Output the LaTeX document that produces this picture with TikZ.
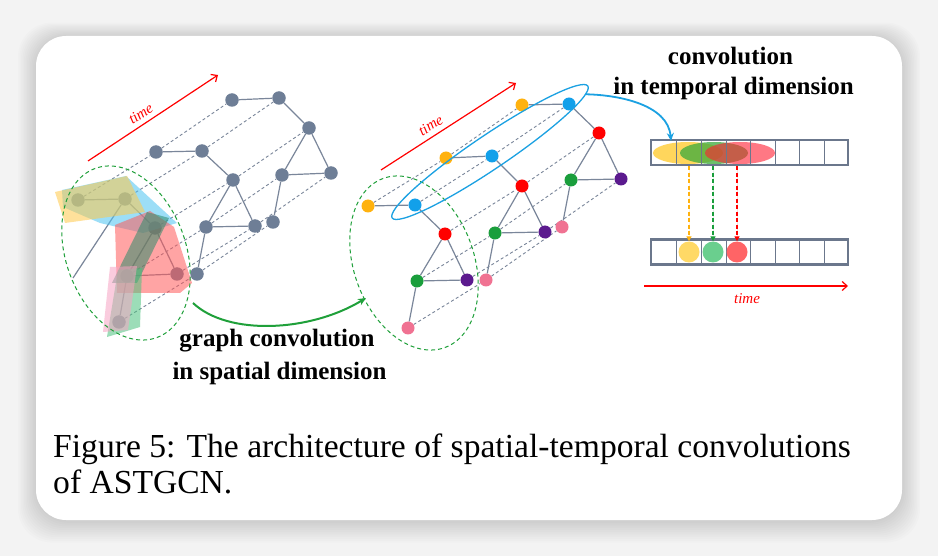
\documentclass[tikz,border=0pt]{standalone}
\usepackage{fontspec}
\setmainfont{Liberation Serif}
\usetikzlibrary{arrows.meta,shapes.geometric}
\definecolor{bgc}{HTML}{F3F3F3}
\definecolor{edgec}{HTML}{7A869A}
\definecolor{nodeg}{HTML}{6E7E96}
\definecolor{corange}{HTML}{FFB20F}
\definecolor{cblue}{HTML}{12A0EA}
\definecolor{cred}{HTML}{FF0000}
\definecolor{cgreen}{HTML}{1A9E3C}
\definecolor{cpurple}{HTML}{5B1A8E}
\definecolor{cpink}{HTML}{F07292}
\definecolor{arrowgreen}{HTML}{1FA03A}
\definecolor{arrowblue}{HTML}{1BA1E2}
\definecolor{boxc}{HTML}{6B778C}
\definecolor{ovyellow}{HTML}{FFC94A}
\definecolor{ovblue}{HTML}{4CC3F2}
\definecolor{ovred}{HTML}{FF5A5A}
\definecolor{ovteal}{HTML}{2E8C6A}
\definecolor{ovgreen}{HTML}{4CC27E}
\definecolor{ovpink}{HTML}{F7A3C3}
\definecolor{tyellow}{HTML}{FFD65C}
\definecolor{tgreen}{HTML}{3CAA3C}
\definecolor{tred}{HTML}{FF1E32}
\definecolor{cyellow}{HTML}{FFD966}
\definecolor{cgreenl}{HTML}{6ACF8E}
\definecolor{credl}{HTML}{FF6466}
\pgfdeclarelayer{back}
\pgfdeclarelayer{edges}
\pgfsetlayers{back,edges,main}
\begin{document}
\begin{tikzpicture}[x=1pt,y=-1pt,
  gn/.style={circle,fill=nodeg,minimum size=13.5pt,inner sep=0pt},
  cn/.style={circle,fill=#1,minimum size=13pt,inner sep=0pt},
  gedge/.style={draw=edgec,line width=1.2pt},
  dline/.style={draw=edgec,line width=0.9pt,dash pattern=on 3pt off 2.5pt},
  overlay/.style={fill=#1,fill opacity=0.55,draw=none},
  timearrow/.style={draw=red,line width=1.2pt,-{Straight Barb[length=5pt,width=9pt]}},
  timelabel/.style={text=red,font=\fontsize{15}{15}\selectfont\itshape,inner sep=0pt},
  bigbold/.style={font=\fontsize{25}{30}\selectfont\bfseries,inner sep=0pt,anchor=base},
  captionstyle/.style={font=\fontsize{33.6}{36}\selectfont,inner sep=0pt,anchor=base west},
  spatell/.style={ellipse,draw=arrowgreen,line width=1pt,dash pattern=on 4pt off 3pt,minimum width=120pt,minimum height=180pt,inner sep=0pt,rotate=20},
  dropline/.style={line width=1.3pt,dash pattern=on 4pt off 2.5pt,-{Triangle[length=5pt,width=5pt]}},
]
\useasboundingbox (0,0) rectangle (938,556);
\begin{pgfonlayer}{back}
\fill[bgc] (0,0) rectangle (938,556);
\foreach \i in {1,...,12}{
  \fill[black,opacity=0.012,rounded corners=34pt] (36-1.5*\i,37-1.2*\i) rectangle (902+1.5*\i,521+1.8*\i);
}
\fill[white,rounded corners=30pt] (36,36) rectangle (902,520);
\end{pgfonlayer}

% ---------- left graph (grey) ----------
\node[gn] (A1) at (232,100) {};
\node[gn] (A2) at (279,98) {};
\node[gn] (A3) at (309,128) {};
\node[gn] (A4) at (282,175) {};
\node[gn] (A5) at (331,173) {};
\node[gn] (A6) at (273,222) {};
\node[gn] (B1) at (156,152) {};
\node[gn] (B2) at (202,151) {};
\node[gn] (B3) at (233,180) {};
\node[gn] (B4) at (206,227) {};
\node[gn] (B5) at (255,226) {};
\node[gn] (B6) at (197,274) {};
\node[gn] (C1) at (78,200) {};
\node[gn] (C2) at (125,199) {};
\node[gn] (C3) at (155,228) {};
\node[gn] (C4) at (127,276) {};
\node[gn] (C5) at (177,274) {};
\node[gn] (C6) at (119,322) {};
\coordinate (stray) at (73,278);

% ---------- right graph (coloured) ----------
\node[cn=corange] (rf1) at (368,206) {};
\node[cn=cblue]   (rf2) at (415,205) {};
\node[cn=cred]    (rf3) at (445,234) {};
\node[cn=cgreen]  (rf4) at (417,281) {};
\node[cn=cpurple] (rf5) at (467,280) {};
\node[cn=cpink]   (rf6) at (408,328) {};
\node[cn=corange] (rm1) at (446,158) {};
\node[cn=cblue]   (rm2) at (492,156) {};
\node[cn=cred]    (rm3) at (522,186) {};
\node[cn=cgreen]  (rm4) at (495,233) {};
\node[cn=cpurple] (rm5) at (545,232) {};
\node[cn=cpink]   (rm6) at (486,280) {};
\node[cn=corange] (rb1) at (522,105) {};
\node[cn=cblue]   (rb2) at (569,104) {};
\node[cn=cred]    (rb3) at (599,133) {};
\node[cn=cgreen]  (rb4) at (571,180) {};
\node[cn=cpurple] (rb5) at (621,179) {};
\node[cn=cpink]   (rb6) at (562,227) {};

\begin{pgfonlayer}{edges}
\foreach \i in {1,...,6}{
  \draw[dline] (C\i) -- (B\i) (B\i) -- (A\i);
  \draw[dline] (rf\i) -- (rm\i) (rm\i) -- (rb\i);
}
\foreach \L in {A,B,C,rf,rm,rb}{
  \draw[gedge] (\L1) -- (\L2) (\L2) -- (\L3) (\L3) -- (\L4) (\L3) -- (\L5) (\L4) -- (\L5) (\L4) -- (\L6);
}
\draw[gedge] (C2) -- (stray);
\end{pgfonlayer}

% translucent receptive fields over the front layer
\fill[overlay=ovblue] (62,190) -- (126,176) -- (177,223) -- (143,233) -- (100,223) -- (63,207) -- cycle;
\fill[overlay=ovyellow] (55,192) -- (127,176) -- (145,212) -- (65,223) -- cycle;
\fill[overlay=ovred] (115,225) -- (150,211) -- (174,227) -- (192,283) -- (180,293) -- (117,293) -- cycle;
\fill[overlay=ovteal] (147,212) -- (169,218) -- (137,283) -- (112,283) -- cycle;
\fill[overlay=ovgreen] (118,270) -- (142,268) -- (140,327) -- (107,337) -- cycle;
\fill[overlay=ovpink] (110,267) -- (137,266) -- (128,330) -- (103,332) -- cycle;

% spatial ellipses
\node[spatell] (spatL) at (126,253) {};
\node[spatell] (spatR) at (414,263) {};
% temporal ellipse
\node[ellipse,draw=arrowblue,line width=1.3pt,minimum width=236pt,minimum height=34pt,inner sep=0pt,rotate=34] (tempell) at (490,152) {};

% time arrows
\coordinate (tL0) at (88,161);
\coordinate (tL1) at (218,75);
\draw[timearrow] (tL0) -- node[timelabel,sloped,above=5pt,pos=0.45] (timeL) {time} (tL1);
\coordinate (tR0) at (381,170);
\coordinate (tR1) at (516,83);
\draw[timearrow] (tR0) -- node[timelabel,sloped,above=5pt,pos=0.41] (timeR) {time} (tR1);

% green arrow (spatial)
\coordinate (gs) at (193,303);
\coordinate (ge) at (366,298);
\draw[arrowgreen,line width=2pt,-{Stealth[length=8pt,width=7pt]}] (gs) .. controls (228,336) and (310,332) .. (ge);

% temporal boxes
\fill[tyellow] (688,153) ellipse [x radius=35pt, y radius=11pt];
\fill[tgreen,fill opacity=0.75] (714,153) ellipse [x radius=34pt, y radius=11pt];
\fill[tred,fill opacity=0.6] (740,153) ellipse [x radius=35pt, y radius=11pt];
\node[draw=boxc,line width=2.5pt,minimum width=197pt,minimum height=25pt,inner sep=0pt] (topbox) at (749.5,152.5) {};
\foreach \x in {676,701,726,750,775,799,824}{
  \draw[boxc,line width=0.9pt] (\x,141) -- (\x,164);
}
\node[draw=boxc,line width=2.5pt,minimum width=197pt,minimum height=25pt,inner sep=0pt] (botbox) at (749.5,252) {};
\foreach \x in {676,701,726,750,775,799,824}{
  \draw[boxc,line width=0.9pt] (\x,240.5) -- (\x,263.5);
}
\node[circle,fill=cyellow,minimum size=21pt,inner sep=0pt] (oy) at (689,252) {};
\node[circle,fill=cgreenl,minimum size=21pt,inner sep=0pt] (og) at (713,252) {};
\node[circle,fill=credl,minimum size=21pt,inner sep=0pt] (or) at (737,252) {};
\draw[dropline,draw=corange,fill=corange] (oy |- topbox.south) -- (oy.north);
\draw[dropline,draw=cgreen,fill=cgreen] (og |- topbox.south) -- (og.north);
\draw[dropline,draw=red,fill=red] (or |- topbox.south) -- (or.north);

% blue arrow (temporal)
\coordinate (bin) at (671,141);
\draw[arrowblue,line width=1.8pt,-{Stealth[length=8pt,width=7pt]}] (tempell.-3) .. controls (620,95) and (668,105) .. (bin);

% bottom time arrow
\coordinate (tB0) at (644,286);
\coordinate (tB1) at (848,286);
\draw[timearrow] (tB0) -- (tB1);
\node[timelabel] (timeB) at (747,299) {time};

% labels
\node[bigbold] (tl1) at (730.5,65) {convolution};
\node[bigbold] (tl2) at (733.5,95) {in temporal dimension};
\node[bigbold] (sl1) at (277,347) {graph convolution};
\node[bigbold] (sl2) at (279.5,379) {in spatial dimension};

% caption
\node[captionstyle] (cap1) at (53,457) {Figure 5: The architecture of spatial-temporal convolutions};
\node[captionstyle] (cap2) at (53,493) {of ASTGCN.};
\end{tikzpicture}
\end{document}
